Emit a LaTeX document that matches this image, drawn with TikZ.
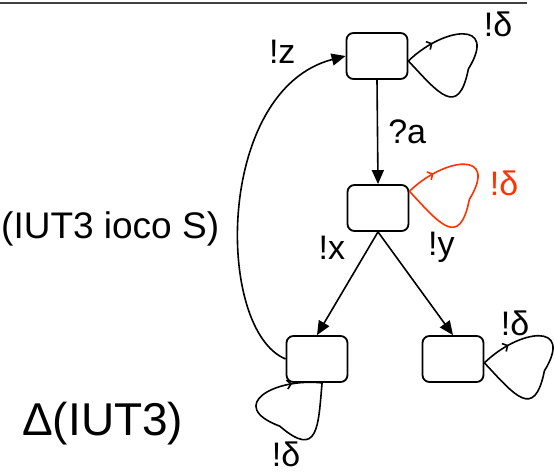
\documentclass[tikz,border=0pt]{standalone}
\usepackage{fontspec}
\setmainfont{Liberation Sans}
\usepackage{tikz}
\usetikzlibrary{arrows.meta, positioning, decorations.markings}
\definecolor{deltared}{RGB}{255, 51, 0}

\begin{document}
\begin{tikzpicture}[x=10pt, y=10pt,
    stbox/.style={draw, line width=1.8pt, rounded corners=7pt, minimum width=61pt, minimum height=46pt, inner sep=0pt},
    trans/.style={line width=1.6pt, -{Triangle[length=14pt, width=12pt]}},
    lbl/.style={font=\fontsize{34}{38}\selectfont, inner sep=0pt},
    barb/.tip={Straight Barb[length=4pt, width=9pt]},
    selfloop/.style={line width=1.6pt, postaction={decorate},
      decoration={markings, mark=at position 0.15 with {#1}}},
    selfloop/.default={\arrow{barb}}]
  \useasboundingbox (0,0) rectangle (55.4,47.4);
  \draw[line width=1.6pt, black!75] (0,47.1) -- (52.7,47.1);

  % states
  \node[stbox] (s0) at (37.7,41.8) {};
  \node[stbox] (s1) at (37.8,26.6) {};
  \node[stbox] (s2) at (31.7,11.5) {};
  \node[stbox] (s3) at (45.3,11.5) {};

  % transitions
  \draw[trans] (s0.south) -- node[lbl, right=10pt] (la) {?a} (s1.north);
  \draw[trans] (s1.south) -- node[lbl, pos=0.15, left=23pt] (lx) {!x} (s2.north);
  \draw[trans] (s1.south) -- node[lbl, pos=0.15, right=38pt] (ly) {!y} (s3.north);
  \draw[trans] (s2.west) .. controls (21.5,14.4) and (21.5,38.4) .. node[lbl, pos=0.9, above left=8pt and 14pt] (lz) {!z} (s0.west);

  % quiescence loops
  \begin{scope}[shift={(s0.-9)}]
    \draw[selfloop] (0,0) .. controls (3.5,3.4) and (9.0,4.1) .. (6.0,-0.8) .. controls (5.0,-5.8) and (3.0,-3.2) .. (0,0);
  \end{scope}
  \begin{scope}[shift={(s1.28)}]
    \draw[selfloop, deltared] (0,0) .. controls (3.5,3.4) and (9.0,4.1) .. (6.0,-0.8) .. controls (5.0,-5.8) and (3.0,-3.2) .. (0,0);
  \end{scope}
  \begin{scope}[shift={(s3.-7)}]
    \draw[selfloop] (0,0) .. controls (3.5,3.4) and (9.0,4.1) .. (6.0,-0.8) .. controls (5.0,-5.8) and (3.0,-3.2) .. (0,0);
  \end{scope}
  \begin{scope}[shift={(s2.-78)}, rotate=38, xscale=-1]
    \draw[selfloop={\arrowreversed{barb}}] (0,0) .. controls (3.5,3.4) and (9.0,4.1) .. (6.0,-0.8) .. controls (5.0,-5.8) and (3.0,-3.2) .. (0,0);
  \end{scope}

  \node[lbl] (d0) at (49.8,45.0) {!δ};
  \node[lbl, text=deltared] (d1) at (50.4,29.1) {!δ};
  \node[lbl] (d3) at (51.5,15.1) {!δ};
  \node[lbl] (d2) at (28.6,2.0) {!δ};

  \node[anchor=base west, inner sep=0pt, font=\fontsize{37}{40}\selectfont] (claim) at (0.1,23.5) {(IUT3 ioco S)};
  \node[anchor=base west, inner sep=0pt, font=\fontsize{46}{50}\selectfont] (title) at (2.2,3.9) {Δ(IUT3)};
\end{tikzpicture}
\end{document}
